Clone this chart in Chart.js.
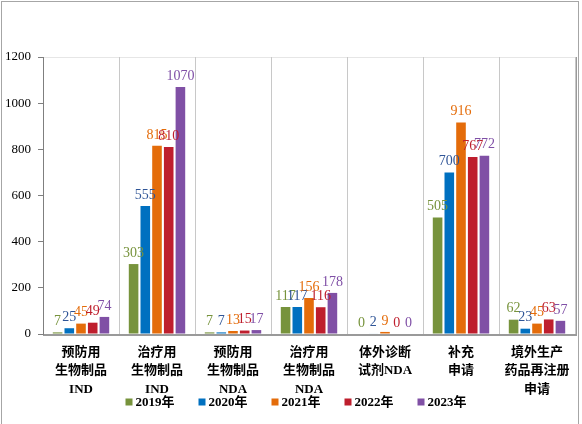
<!DOCTYPE html>
<html>
<head>
<meta charset="utf-8">
<script src="https://cdn.jsdelivr.net/npm/chart.js@4/dist/chart.umd.min.js"></script>
<style>
  html, body { margin: 0; padding: 0; background: #fff; }
  #wrap { width: 582px; height: 424px; position: relative; }
</style>
</head>
<body>
<div id="wrap"><canvas id="grafica" width="582" height="424"></canvas></div>
<script>
const categorias = [
  ["预防用", "生物制品", "IND"],
  ["治疗用", "生物制品", "IND"],
  ["预防用", "生物制品", "NDA"],
  ["治疗用", "生物制品", "NDA"],
  ["体外诊断", "试剂NDA"],
  ["补充", "申请"],
  ["境外生产", "药品再注册", "申请"]
];
const anios = ["2019年", "2020年", "2021年", "2022年", "2023年"];
const datos2019 = [7, 303, 7, 117, 0, 505, 62];
const datos2020 = [25, 555, 7, 117, 2, 700, 23];
const datos2021 = [45, 815, 13, 156, 9, 916, 45];
const datos2022 = [49, 810, 15, 116, 0, 767, 63];
const datos2023 = [74, 1070, 17, 178, 0, 772, 57];
const ticksY = [0, 200, 400, 600, 800, 1000, 1200];

const colores = ["#77933C", "#0070C0", "#E46C0A", "#BE1E2D", "#8050A5"];
const coloresTexto = ["#77933C", "#2F5597", "#E46C0A", "#BE1E2D", "#7F4FA6"];
const fuenteSerif = "'Liberation Serif', 'Noto Sans CJK SC', serif";

const series = [datos2019, datos2020, datos2021, datos2022, datos2023];

// etiquetas de valor encima de cada barra
const etiquetasPlugin = {
  id: "etiquetas",
  afterDatasetsDraw(chart) {
    const ctx = chart.ctx;
    ctx.save();
    ctx.font = "14px " + fuenteSerif;
    ctx.textAlign = "center";
    ctx.textBaseline = "bottom";
    chart.data.datasets.forEach(function (ds, i) {
      const meta = chart.getDatasetMeta(i);
      ctx.fillStyle = coloresTexto[i];
      meta.data.forEach(function (bar, j) {
        ctx.fillText(String(ds.data[j]), bar.x, bar.y - 4);
      });
    });
    ctx.restore();
  }
};

// leyenda propia, pegada a las etiquetas del eje x como en el original
const leyendaPlugin = {
  id: "leyenda",
  afterDraw(chart) {
    const ctx = chart.ctx;
    const caja = 7, sep = 3, hueco = 24, yCentro = 402, xCentro = 296;
    ctx.save();
    ctx.font = "bold 13px " + fuenteSerif;
    ctx.textBaseline = "middle";
    ctx.textAlign = "left";
    const anchos = chart.data.datasets.map(function (ds) {
      return caja + sep + ctx.measureText(ds.label).width;
    });
    const total = anchos.reduce(function (a, b) { return a + b; }, 0) + hueco * (anchos.length - 1);
    let x = xCentro - total / 2;
    chart.data.datasets.forEach(function (ds, i) {
      ctx.fillStyle = ds.backgroundColor;
      ctx.fillRect(x, yCentro - caja / 2, caja, caja);
      ctx.fillStyle = "#000";
      ctx.fillText(ds.label, x + caja + sep, yCentro + 1);
      x += anchos[i] + hueco;
    });
    ctx.restore();
  }
};

// marco exterior y borde del area de trazado
const marcoPlugin = {
  id: "marco",
  beforeDraw(chart) {
    const ctx = chart.ctx;
    const a = chart.chartArea;
    ctx.save();
    ctx.strokeStyle = "#a6a6a6";
    ctx.lineWidth = 1;
    ctx.strokeRect(1.5, 1.5, 577, 440);
    ctx.strokeStyle = "#e6e6e6";
    ctx.beginPath();
    ctx.moveTo(a.left, a.top + 0.5);
    ctx.lineTo(a.right, a.top + 0.5);
    ctx.stroke();
    ctx.strokeStyle = "#9a9a9a";
    ctx.lineWidth = 2;
    ctx.beginPath();
    ctx.moveTo(a.right + 1, a.top);
    ctx.lineTo(a.right + 1, a.bottom + 1);
    ctx.lineTo(a.left, a.bottom + 1);
    ctx.stroke();
    ctx.restore();
  }
};

new Chart(document.getElementById("grafica"), {
  type: "bar",
  data: {
    labels: categorias,
    datasets: series.map(function (d, i) {
      return {
        label: anios[i],
        data: d,
        backgroundColor: colores[i],
        borderWidth: 0,
        categoryPercentage: 0.77,
        barPercentage: 0.82
      };
    })
  },
  options: {
    responsive: false,
    animation: false,
    devicePixelRatio: 1,
    layout: { padding: { left: 0, right: 7, top: 57, bottom: 0 } },
    plugins: {
      tooltip: { enabled: false },
      legend: { display: false }
    },
    scales: {
      x: {
        grid: {
          offset: true,
          color: "#c8c8c8",
          drawTicks: false
        },
        border: { color: "#9a9a9a" },
        ticks: {
          color: "#000",
          padding: 9,
          maxRotation: 0,
          autoSkip: false,
          font: { family: fuenteSerif, size: 13, weight: "bold", lineHeight: 1.42 }
        },
        afterFit(scale) { scale.height = 90; }
      },
      y: {
        min: 0,
        max: 1200,
        afterBuildTicks(scale) {
          scale.ticks = ticksY.map(function (v) { return { value: v }; });
        },
        grid: {
          drawOnChartArea: false,
          drawTicks: true,
          tickLength: 5,
          color: "#7f7f7f"
        },
        border: { color: "#7f7f7f" },
        ticks: {
          color: "#000",
          padding: 7,
          font: { family: fuenteSerif, size: 13 },
          callback: function (v) { return String(v); }
        },
        afterFit(scale) { scale.width = 43; }
      }
    }
  },
  plugins: [etiquetasPlugin, leyendaPlugin, marcoPlugin]
});
</script>
</body>
</html>
